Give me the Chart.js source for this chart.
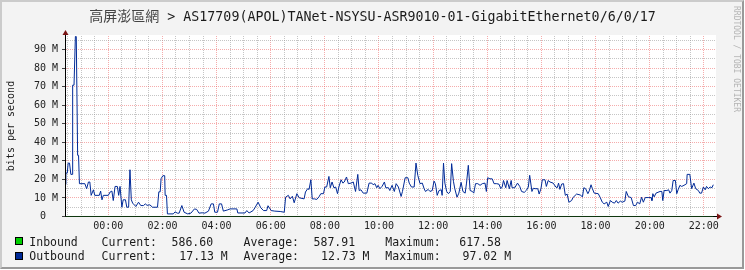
<!DOCTYPE html>
<html><head><meta charset="utf-8">
<script src="https://cdn.jsdelivr.net/npm/chart.js@4"></script>
<style>
html,body{margin:0;padding:0;background:#fff;width:745px;height:270px;overflow:hidden;}
#frame{position:absolute;left:0;top:0;width:744px;height:269px;box-sizing:border-box;background:#f3f3f3;border-top:2px solid #cbcbcb;border-left:2px solid #cbcbcb;border-right:2px solid #999;border-bottom:2px solid #999;}
#c{position:absolute;left:0;top:0;}
.t{position:absolute;white-space:pre;font-family:"DejaVu Sans Mono",monospace;color:#1a1a1a;}
#title{left:0;width:745px;text-align:center;top:6.5px;font-size:13.3px;line-height:16px;}
#title .cjk{font-family:"Noto Sans CJK TC","Noto Sans CJK SC",sans-serif;font-size:14px;color:#444;}
#ylab{left:11px;top:126px;font-size:10px;line-height:12px;transform:translate(-50%,-50%) rotate(-90deg);}
#wm{left:735.5px;top:59px;font-size:8px;line-height:10px;color:#b4b4b4;transform:translate(-50%,-50%) rotate(90deg);}
.lg{font-size:11.5px;line-height:12px;}
.box{position:absolute;width:8px;height:8px;box-sizing:border-box;border:1px solid #000;}
</style>
</head><body>
<div id="frame"></div>
<canvas id="c" width="745" height="270"></canvas>
<div class="t" id="title"><span class="cjk">高屏澎區網</span> &gt; AS17709(APOL)TANet-NSYSU-ASR9010-01-GigabitEthernet0/6/0/17</div>
<div class="t" id="ylab">bits per second</div>
<div class="t" id="wm">RRDTOOL / TOBI OETIKER</div>
<div id="legend"></div>
<script>
// time in minutes relative to 00:00 (negative = previous evening), outbound in Mbit/s
const outboundSamples = [
[-96,17.3],[-94,23.4],[-91,23.4],[-89,28.8],[-86,28.8],[-83,22.7],[-80,22.7],[-79,70.8],[-76,70.8],[-73,97.02],[-71,97.0],[-68,33],[-66,33],[-64,17.7],[-52,17.7],[-48,15],[-44,18.6],[-41,18.6],[-38,11.4],[-33,14.4],[-30,11.4],[-20,11.4],[-17,13.7],[-14,9],[-11,11.4],
[0,11.4],[4,13.2],[8,13.7],[11,8.6],[15,16.2],[20,16.2],[23,11.4],[26,16.2],[30,5],[33,9],[38,9],[41,5],[45,5],[48,25.2],[51,9],[54,7.2],[61,5.4],[67,7.7],[72,5.9],[78,5.9],[82,6.8],[86,6],[92,6.3],[98,5],[109,5],[112,13.3],[115,13.3],[117,20.4],[121,22],[125,22],[126,11.4],[129,11.4],
[131,1.4],[144,1.4],[148,2.5],[153,1.8],[157,1.8],[163,5.9],[168,2.3],[176,1.4],[183,1.8],[191,4.1],[196,3.8],[201,1.8],[208,2.0],[214,1.8],[222,2.9],[228,6.8],[233,6.8],[236,2.3],[242,2.3],[246,6.8],[251,6.8],[255,2.9],[265,3.6],[270,4.1],[285,4.1],[287,1.9],[303,1.9],[307,3.2],[312,1.9],[321,3.2],[325,4.7],[332,7.7],[338,4.7],[344,3.2],[351,3.2],[354,5.8],[361,3.2],[369,2.9],[381,2.7],[390,2.3],
[393,10.4],[399,11.4],[403,9.5],[408,10.9],[412,7.4],[418,12.3],[423,10.1],[434,9.5],[437,13.2],[442,15],[445,14.6],[449,19.8],[452,9.5],[457,9.5],[462,9.2],[467,10.6],[471,12.3],[477,12.3],[480,15.9],[484,15.9],[489,21.6],[492,15.5],[496,18.6],[500,15.5],[504,15.9],[508,12.3],[511,15.9],[516,19.8],[520,18],[523,18.6],[528,21.3],[532,17.7],[538,18],[543,18.6],[548,13.5],[553,22.7],[556,14],[560,14.4],[565,12.6],[573,12.6],[578,18],[584,18],[587,17.1],[591,17.7],[595,15.5],[598,16.8],[602,15],[607,16.3],[612,18.6],[615,15.5],[621,15.5],[624,14],[629,16.8],[634,13.5],[638,17.7],[643,15.9],[649,10.8],[652,13.5],[658,20.9],[664,20.9],[667,18],[672,15.9],[678,15.9],
[682,28.8],[686,22.2],[691,17.7],[696,18],[700,15],[703,13.5],[709,14.6],[713,13.5],[718,14],[722,19.1],[725,17.7],[729,11.4],[733,14],[738,14.4],[740,11.4],[743,28.8],[746,18],[750,13.5],[754,12.3],[758,13.5],[761,28.5],[765,19],[768,15],[773,10.4],[777,12.6],[782,18.4],[786,13.5],[791,12.6],[794,18],[798,27.6],[802,14],[807,13.5],[810,12.6],[814,17.7],[819,17.7],[824,16.8],[829,17.7],[835,18],[838,13.5],[841,20.9],[846,20.3],[851,20.3],[855,17.7],[861,17.7],[866,17.4],[870,15],[873,15.9],[876,19.4],[881,15.5],[884,19.4],[889,15],[893,19.4],[895,15.5],[901,15.5],[907,18],[912,16.2],[916,13.5],[922,13.0],[927,14.2],[931,15.9],[934,22.2],[939,13.5],[942,15.2],[946,15],[952,15],[955,12.1],[959,15],[962,19.8],[968,19.8],[971,16.2],[975,19.4],[979,18.6],[986,18],[992,15.9],[995,15.5],[998,18],[1001,14.6],[1005,17.5],[1009,17.7],[1013,11.4],[1017,12.1],[1021,7.7],[1027,8.6],[1030,10.2],[1038,12.1],[1046,11.6],[1051,10.6],[1054,15.5],[1058,15],[1063,12.3],[1066,13.8],[1070,17.1],[1073,15],[1077,12.6],[1086,12.3],[1090,10.4],[1095,7.7],[1099,6.8],[1105,7.7],[1108,5.4],[1113,8.6],[1117,7.7],[1122,7.2],[1126,8.6],[1130,7.2],[1135,8.3],[1139,7.7],[1145,8.3],[1148,13.5],[1153,10.6],[1159,10.2],[1164,5.9],[1169,5.9],[1173,7.7],[1178,6.8],[1182,10.4],[1186,7.7],[1190,10.2],[1198,10.2],[1203,10.2],[1205,8.6],[1207,12.3],[1210,10.6],[1214,12.6],[1223,13.5],[1227,13.5],[1229,8.6],[1232,14],[1238,14],[1242,14.4],[1245,12.6],[1249,14],[1252,19.4],[1257,19.4],[1260,12.3],[1263,14.4],[1267,16.8],[1271,16.2],[1276,16.8],[1282,17.7],[1283,22.7],[1289,22.7],[1293,15],[1298,18],[1302,15],[1308,14],[1311,12.6],[1315,12.6],[1319,15.9],[1323,14.4],[1326,16.2],[1330,15],[1334,15.9],[1338,15.5],[1341,17.13]
];
// inbound in bit/s
const inboundSamples = [[-96,588],[300,590],[700,617.58],[1000,587],[1341,586.6]];
const xRange = [-96, 1347];       // minutes
const yRange = [0, 97.3];         // Mbit/s
const legendRows = [
  {name:'Inbound',  color:'#00CF00', cur:'586.60',  avg:'587.91',  max:'617.58'},
  {name:'Outbound', color:'#002A97', cur:'17.13 M', avg:'12.73 M', max:'97.02 M'}
];

// legend (HTML text)
(function(){
  const L = document.getElementById('legend');
  const rowsTop = [235.9, 250.2], boxTop = [237, 252];
  legendRows.forEach((r,i)=>{
    const b = document.createElement('div'); b.className='box';
    b.style.left='15px'; b.style.top=boxTop[i]+'px'; b.style.background=r.color; L.appendChild(b);
    const curX = i===0 ? 171.6 : 179.3, avgX = i===0 ? 313.6 : 321, maxX = i===0 ? 459.3 : 462.6;
    [[r.name,29.3],['Current:',101.6],[r.cur,curX],['Average:',243.6],[r.avg,avgX],['Maximum:',385.3],[r.max,maxX]].forEach(([txt,x])=>{
      const s=document.createElement('div'); s.className='t lg'; s.textContent=txt;
      s.style.left=x+'px'; s.style.top=rowsTop[i]+'px'; L.appendChild(s);
    });
  });
})();

const RED='rgba(235,90,90,0.5)', GREY='rgba(150,150,150,0.55)';
const decor = {
  id:'decor',
  beforeDraw(chart){
    const {ctx, chartArea:a} = chart;
    ctx.save(); ctx.fillStyle='#fff';
    ctx.fillRect(a.left, a.top-1, a.right-a.left, a.bottom-a.top+1);
    ctx.restore();
  },
  afterDraw(chart){
    const {ctx, chartArea:a} = chart;
    ctx.save();
    ctx.strokeStyle='#000'; ctx.lineWidth=1;
    ctx.beginPath(); ctx.moveTo(65.5, a.bottom); ctx.lineTo(65.5, 33); ctx.stroke();
    ctx.fillStyle='#7a1414';
    ctx.beginPath(); ctx.moveTo(62.5,35); ctx.lineTo(68.5,35); ctx.lineTo(65.5,30); ctx.closePath(); ctx.fill();
    const yb = Math.floor(a.bottom)+0.5;
    ctx.beginPath(); ctx.moveTo(717,yb-3); ctx.lineTo(717,yb+3); ctx.lineTo(722,yb); ctx.closePath(); ctx.fill();
    ctx.restore();
  }
};

new Chart(document.getElementById('c'), {
  type:'line',
  data:{ datasets:[
    { label:'Inbound', data: inboundSamples.map(([t,v])=>({x:t, y:v/1e6})), borderColor:'#1f6e1f', borderWidth:1, pointRadius:0, tension:0, order:1 },
    { label:'Outbound', data: outboundSamples.map(([t,v])=>({x:t, y:v})), borderColor:'#002A97', borderWidth:1, pointRadius:0, tension:0, order:2 }
  ]},
  options:{
    responsive:false, animation:false, events:[],
    layout:{ padding:{ left:0, top:36, right:29, bottom:39.5 } },
    plugins:{ legend:{display:false}, tooltip:{enabled:false} },
    scales:{
      x:{ type:'linear', min:xRange[0], max:xRange[1],
        afterFit(s){ s.height = 14; },
        grid:{ drawTicks:false, color:(c)=> (c.tick && c.tick.value % 120 === 0) ? RED : GREY, lineWidth:1 },
        border:{ display:true, color:'#000', dash:[1,1] },
        ticks:{ stepSize:30, autoSkip:false, maxRotation:0, includeBounds:false, maxTicksLimit:1000, padding:4,
          font:{ family:'"DejaVu Sans Mono", monospace', size:10 }, color:'#222',
          callback:(v)=>{ if (v % 120 !== 0) return ''; const h=((v/60)%24+24)%24; return String(h).padStart(2,'0')+':00'; } }
      },
      y:{ type:'linear', min:yRange[0], max:yRange[1],
        afterFit(s){ s.width = 65; },
        grid:{ drawTicks:true, tickLength:3, color:(c)=> (c.tick && c.tick.value % 10 === 0) ? RED : GREY,
          tickColor:(c)=> (c.tick && c.tick.value % 10 === 0) ? '#444' : 'rgba(0,0,0,0)', lineWidth:1 },
        border:{ display:true, color:'#000', dash:[1,1] },
        ticks:{ stepSize:5, autoSkip:false, includeBounds:false, maxTicksLimit:1000, padding:4,
          font:{ family:'"DejaVu Sans Mono", monospace', size:10 }, color:'#222',
          callback:(v)=> (v % 10 !== 0) ? '' : (v === 0 ? '0  ' : v + ' M') }
      }
    }
  },
  plugins:[decor]
});
</script>
</body></html>
